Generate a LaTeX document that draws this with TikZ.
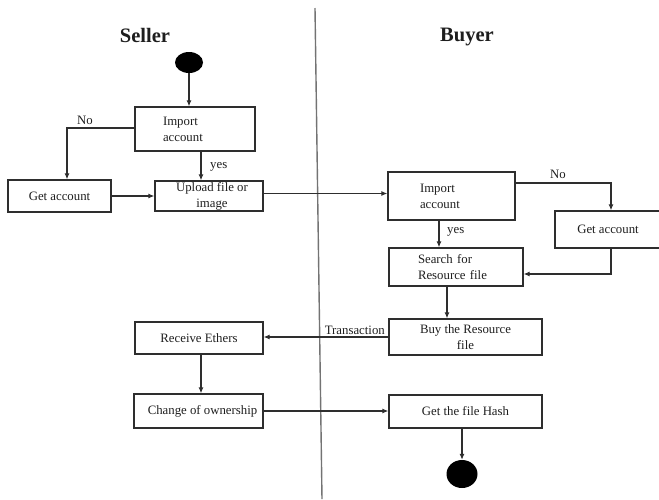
\documentclass[tikz,border=0pt]{standalone}
\usepackage{fontspec}
\setmainfont{Liberation Serif}
\usetikzlibrary{arrows.meta,shapes.geometric}
\definecolor{lc}{HTML}{2E2E2E}
\definecolor{tc}{HTML}{1E1E1E}
\begin{document}
\begin{tikzpicture}[x=1pt,y=-1pt,
  txt/.style={font=\fontsize{12.8}{16}\selectfont, text=tc, inner sep=0pt},
  box/.style={txt, draw=lc, line width=1.3pt, align=center},
  lbox/.style={txt, draw=lc, line width=1.3pt, align=left},
  title/.style={font=\fontsize{20.5}{24}\selectfont\bfseries, text=tc, inner sep=0pt},
  arr/.style={draw=lc, line width=1.1pt, -{Latex[length=6pt,width=5pt]}},
  dot/.style={ellipse, fill=black, draw=none, inner sep=0pt}]
\useasboundingbox (0,0) rectangle (659,499);
% swimlane divider
\coordinate (divtop) at (315,8);
\coordinate (divbot) at (322,499);
\draw[draw=black!55, line width=1.4pt] (divtop) -- (divbot);
% titles
\node[title] (tseller) at (145,35) {Seller};
\node[title] (tbuyer) at (467,37) {Buyer};
% seller side
\node[dot, minimum width=28pt, minimum height=21pt] (start) at (189,62.5) {};
\node[lbox, minimum height=44pt, text width=64pt, inner xsep=28pt] (sImport) at (195,129) {Import\\account};
\node[box, minimum width=103pt, minimum height=32pt] (sGet) at (59.5,196) {Get account};
\node[box, minimum width=108pt, minimum height=30pt] (sUpload) at (209,196) {\hspace*{6pt}Upload file or\\\hspace*{6pt}image};
\node[box, minimum width=128pt, minimum height=32pt] (sRecv) at (199,338) {Receive Ethers};
\node[box, minimum width=129pt, minimum height=34pt] (sChange) at (198.5,411) {\hspace*{8pt}Change of ownership};
% buyer side
\node[lbox, minimum height=48pt, text width=63pt, inner xsep=32pt] (bImport) at (451.5,196) {Import\\account};
\node[box, minimum width=106pt, minimum height=37pt] (bGet) at (608,229.5) {Get account};
\node[lbox, minimum height=38pt, text width=76pt, inner xsep=29pt] (bSearch) at (456,267) {Search for\\Resource file};
\node[box, minimum width=153pt, minimum height=36pt] (bBuy) at (465.5,337) {Buy the Resource\\file};
\node[box, minimum width=153pt, minimum height=33pt] (bHash) at (465.5,411.5) {Get the file Hash};
\node[dot, minimum width=31pt, minimum height=28pt] (end) at (462,474) {};
% seller connectors
\draw[arr] (start) -- (start |- sImport.north);
\draw[arr] ([yshift=1pt]sImport.west) -| ([xshift=7.5pt]sGet.north);
\node[txt] (lno1) at (85,120) {No};
\draw[arr] ([xshift=6pt]sImport.south) -- ([xshift=6pt]sImport.south |- sUpload.north);
\node[txt, anchor=west] (lyes1) at (210,167) {yes};
\draw[arr] (sGet.east) -- (sUpload.west);
\draw[arr] ([yshift=2.5pt]sUpload.east) -- ([yshift=2.5pt]sUpload.east -| bImport.west);
% buyer connectors
\draw[arr] ([yshift=13pt]bImport.east) -| ([xshift=3pt]bGet.north);
\node[txt] (lno2) at (558,174) {No};
\draw[arr] ([xshift=-12.5pt]bImport.south) -- ([xshift=-12.5pt]bImport.south |- bSearch.north);
\node[txt, anchor=west] (lyes2) at (447,232) {yes};
\draw[arr] ([xshift=3pt]bGet.south) |- ([yshift=-7pt]bSearch.east);
\draw[arr] ([xshift=-9pt]bSearch.south) -- ([xshift=-9pt]bSearch.south |- bBuy.north);
\draw[arr] (bBuy.west) -- (bBuy.west -| sRecv.east);
\node[txt, anchor=south east] (ltrans) at (385,335) {Transaction};
\draw[arr] ([xshift=2pt]sRecv.south) -- ([xshift=2pt]sRecv.south |- sChange.north);
\draw[arr] (sChange.east) -- (sChange.east -| bHash.west);
\draw[arr] (bHash.south -| end) -- (end.north);
\end{tikzpicture}
\end{document}
